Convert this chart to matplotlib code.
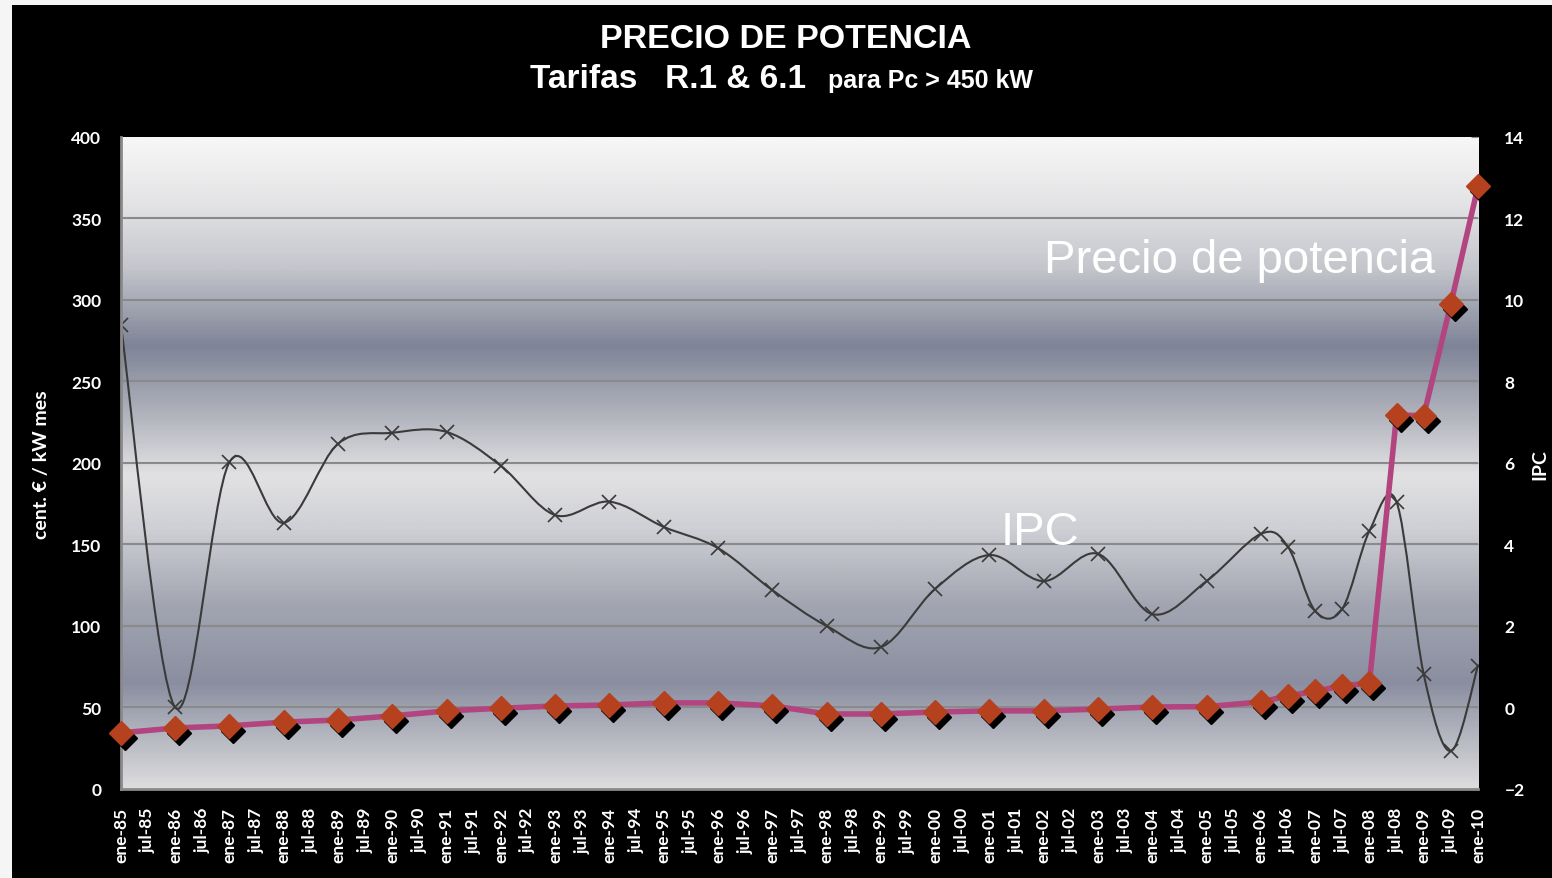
import numpy as np
import matplotlib
matplotlib.use('Agg')
import matplotlib.pyplot as plt
from matplotlib.colors import LinearSegmentedColormap
from matplotlib.path import Path
from matplotlib.patches import PathPatch, Rectangle
from matplotlib import transforms

# x axis categories: every half year from ene-85 to ene-10
etiquetas = []
for a in range(85, 110):
	etiquetas += ['ene-%02d' % (a % 100), 'jul-%02d' % (a % 100)]
etiquetas.append('ene-10')

fechas = ['ene-85', 'ene-86', 'ene-87', 'ene-88', 'ene-89', 'ene-90', 'ene-91', 'ene-92',
	'ene-93', 'ene-94', 'ene-95', 'ene-96', 'ene-97', 'ene-98', 'ene-99', 'ene-00',
	'ene-01', 'ene-02', 'ene-03', 'ene-04', 'ene-05', 'ene-06', 'jul-06', 'ene-07',
	'jul-07', 'ene-08', 'jul-08', 'ene-09', 'jul-09', 'ene-10']

precio = [34.4, 37.4, 38.7, 41.0, 42.3, 44.8, 47.9, 49.5, 50.9, 51.5, 52.8, 52.8,
	51.0, 46.0, 46.0, 47.2, 47.9, 47.9, 49.0, 50.3, 50.5, 53.4, 57.0, 60.0,
	63.2, 65.0, 229.4, 229.0, 297.5, 369.6]

ipc = [9.39, 0.0, 6.02, 4.53, 6.47, 6.74, 6.76, 5.93, 4.72, 5.05, 4.43, 3.91,
	2.88, 2.0, 1.48, 2.91, 3.74, 3.1, 3.77, 2.29, 3.1, 4.26, 3.94, 2.37,
	2.42, 4.33, 5.04, 0.82, -1.07, 1.02]

xpos = [etiquetas.index(f) for f in fechas]

#*******************************************************************************

def smooth_path(x, y):
	# excel-like smoothed line (catmull-rom as cubic bezier)
	pts = np.column_stack([x, y]).astype(float)
	verts = [pts[0]]
	codes = [Path.MOVETO]
	n = len(pts)
	for i in range(n - 1):
		p0 = pts[i - 1] if i > 0 else pts[i]
		p1 = pts[i]
		p2 = pts[i + 1]
		p3 = pts[i + 2] if i + 2 < n else pts[i + 1]
		verts += [p1 + (p2 - p0) / 6, p2 - (p3 - p1) / 6, p2]
		codes += [Path.CURVE4] * 3
	return Path(verts, codes)

#*******************************************************************************

fig = plt.figure(figsize=(15.52, 8.79), dpi=100, facecolor='#F5F5F5')
fig.patches.append(Rectangle((12 / 1552, 0), 1, 1 - 6 / 879, transform=fig.transFigure,
	facecolor='black', edgecolor='none', zorder=-10))

ax = fig.add_axes([0.0779, 0.1013, 0.8744, 0.7418])
ax2 = ax.twinx()
ax.set_zorder(ax2.get_zorder() + 1)
ax.patch.set_visible(False)

# background gradient of the plot area (row 0 = top)
stops = [(0.0, '#F7F7F7'), (0.1, '#E4E4E6'), (0.2, '#C4C6CC'), (0.32, '#7E8497'),
	(0.42, '#AEB0BA'), (0.52, '#E2E2E4'), (0.6, '#CFD0D5'), (0.72, '#A2A5B1'),
	(0.84, '#8A8EA0'), (0.92, '#B4B6BF'), (1.0, '#DCDCDE')]
cmap = LinearSegmentedColormap.from_list('fondo', stops)
grad = np.linspace(0, 1, 400).reshape(-1, 1)
ax2.imshow(grad, cmap=cmap, extent=[0, 50, -2, 14], aspect='auto', zorder=0, origin='upper')

ax.set_xlim(0, 50)
ax.set_ylim(0, 400)
ax2.set_ylim(-2, 14)
ax2.set_xlim(0, 50)

for v in range(50, 400, 50):
	ax2.axhline(v / 25 - 2, color='#8A8A8A', lw=1.5, zorder=1)

# IPC, smoothed line with x markers
ax2.add_patch(PathPatch(smooth_path(xpos, ipc), fill=False, edgecolor='#3A3A3A', lw=1.5, zorder=3))
ax2.plot(xpos, ipc, ls='none', marker='x', ms=10, mew=1.2, color='#3A3A3A', zorder=4)

# precio de potencia
ax.plot(xpos, precio, color='#B2457F', lw=4, zorder=3, solid_joinstyle='round')
sombra = transforms.offset_copy(ax.transData, fig=fig, x=4, y=-5, units='dots')
ax.plot(xpos, precio, ls='none', marker='D', ms=12, color='black', transform=sombra, zorder=4, clip_on=False)
ax.plot(xpos, precio, ls='none', marker='D', ms=12, color='#B5411E', mec='#B5411E', zorder=5, clip_on=False)

ax.text(34.0, 317, 'Precio de potencia', color='white', fontsize=34, family='Liberation Sans', va='baseline', ha='left', zorder=6)
ax.text(32.4, 150, 'IPC', color='white', fontsize=34, family='Liberation Sans', va='baseline', ha='left', zorder=6)

# axes styling
ax.set_xticks(range(len(etiquetas)))
ax.set_xticklabels(etiquetas, rotation=90, fontsize=12.5, fontweight='bold', family='Lato', color='white')
ax.set_yticks(range(0, 401, 50))
ax.tick_params(axis='x', length=0, pad=13)
ax.tick_params(axis='y', length=0, pad=14, labelsize=12.5, labelcolor='white')
for t in ax.get_yticklabels():
	t.set_fontweight('bold')
	t.set_family('Lato')
ax2.set_yticks(range(-2, 15, 2))
ax2.tick_params(axis='y', direction='in', length=5, color='#8A8A8A', pad=19, labelsize=12.5, labelcolor='white')
for t in ax2.get_yticklabels():
	t.set_fontweight('bold')
	t.set_family('Lato')

for a in (ax, ax2):
	for s in a.spines.values():
		s.set_visible(False)
ax.spines['left'].set_visible(True)
ax.spines['left'].set_color('#8A8A8A')
ax.spines['left'].set_linewidth(2)
ax.spines['bottom'].set_visible(True)
ax.spines['bottom'].set_color('#8A8A8A')
ax.spines['bottom'].set_linewidth(2)

fig.text(0.027, 0.471, 'cent. € / kW mes', rotation=90, color='white', fontsize=14, fontweight='bold', family='Lato', ha='center', va='center')
fig.text(0.992, 0.471, 'IPC', rotation=90, color='white', fontsize=14, fontweight='bold', family='Lato', ha='center', va='center')

# titles
fig.text(0.5064, 0.9454, 'PRECIO DE POTENCIA', color='white', fontsize=24.5, fontweight='bold', family='Liberation Sans', ha='center', va='baseline')
fig.text(530 / 1552, 0.8999, 'Tarifas   R.1 & 6.1', color='white', fontsize=24, fontweight='bold', family='Liberation Sans', ha='left', va='baseline')
fig.text(828 / 1552, 0.8999, 'para Pc > 450 kW', color='white', fontsize=18, fontweight='bold', family='Liberation Sans', ha='left', va='baseline')

plt.savefig('out.png', dpi=100, facecolor=fig.get_facecolor())
plt.close()
